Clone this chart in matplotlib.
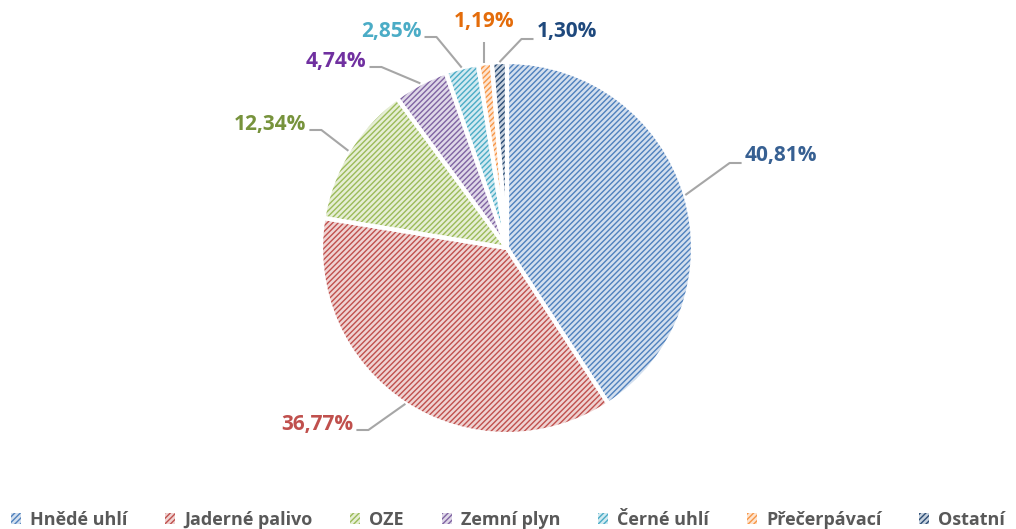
import matplotlib.pyplot as plt
import numpy as np

labels = ["Hnědé uhlí", "Jaderné palivo", "OZE", "Zemní plyn", "Černé uhlí", "Přečerpávací", "Ostatní"]
values = [40.81, 36.77, 12.34, 4.74, 2.85, 1.19, 1.30]
value_text = ["40,81%", "36,77%", "12,34%", "4,74%", "2,85%", "1,19%", "1,30%"]

dark = ["#4F81BD", "#C0504D", "#9BBB59", "#8064A2", "#4BACC6", "#F79646", "#2C4D75"]
light = ["#D3DFEE", "#EFD3D2", "#E6EED5", "#DFD8E8", "#D2EAF1", "#FDE4D0", "#C6D1DE"]
label_col = ["#376092", "#C0504D", "#77933C", "#7030A0", "#4BACC6", "#E46C0A", "#1F497D"]

# label text centres in pixels (x from left, y from top) and which side the leader joins
label_px = [(781, 156), (317, 425), (270, 125), (336, 62), (391, 32), (484, 22), (567, 32)]
side = ["left", "right", "right", "right", "right", "bottom", "left"]

W, H = 1016, 529
cx, cy, R = 507, 248, 186

plt.rcParams['font.family'] = ['Open Sans', 'DejaVu Sans']
plt.rcParams['hatch.linewidth'] = 1.0

fig = plt.figure(figsize=(W / 100, H / 100), dpi=100)
ax = fig.add_axes([0, 0, 1, 1])

wedges, _ = ax.pie(values, startangle=90, counterclock=False, radius=1,
                   colors=light, wedgeprops=dict(linewidth=0))
for w, c in zip(wedges, dark):
    w.set_edgecolor(c)
    w.set_hatch('//////')
ax.pie(values, startangle=90, counterclock=False, radius=1,
       colors=['none'] * len(values), wedgeprops=dict(edgecolor='white', linewidth=3))

ax.set_xlim(-cx / R, (W - cx) / R)
ax.set_ylim(-(H - cy) / R, cy / R)
ax.set_aspect('equal')
ax.axis('off')


def px2d(x, y):
    return (x - cx) / R, (cy - y) / R


total = sum(values)
start = 90.0
for i, v in enumerate(values):
    mid = np.deg2rad(start - v / total * 360 / 2)
    start -= v / total * 360
    ex, ey = np.cos(mid), np.sin(mid)
    tx, ty = label_px[i]
    ax.text(*px2d(tx, ty), value_text[i], ha='center', va='center',
            fontsize=15, fontweight='bold', color=label_col[i])
    hw = len(value_text[i]) * 5.9
    if side[i] == 'left':
        anchor = (tx - hw - 4, ty + 7)
        elbow = (anchor[0] - 12, anchor[1])
        pts = [anchor, elbow]
    elif side[i] == 'right':
        anchor = (tx + hw + 4, ty + 5)
        elbow = (anchor[0] + 12, anchor[1])
        pts = [anchor, elbow]
    else:
        pts = [(tx, ty + 20)]
    xs = [px2d(*p)[0] for p in pts] + [ex]
    ys = [px2d(*p)[1] for p in pts] + [ey]
    if side[i] == 'bottom':
        xs[-1] = xs[0]
    ax.plot(xs, ys, color='#A6A6A6', lw=1.5, solid_capstyle='butt')

leg = ax.legend(wedges, labels, loc='lower center', bbox_to_anchor=(0.5, -0.03), ncol=7,
                frameon=False, handlelength=0.55, handleheight=0.55, handletextpad=0.5,
                columnspacing=2.1, prop=dict(size=13, weight='bold'))
for txt in leg.get_texts():
    txt.set_color('#595959')

fig.savefig('out.png', dpi=100)
